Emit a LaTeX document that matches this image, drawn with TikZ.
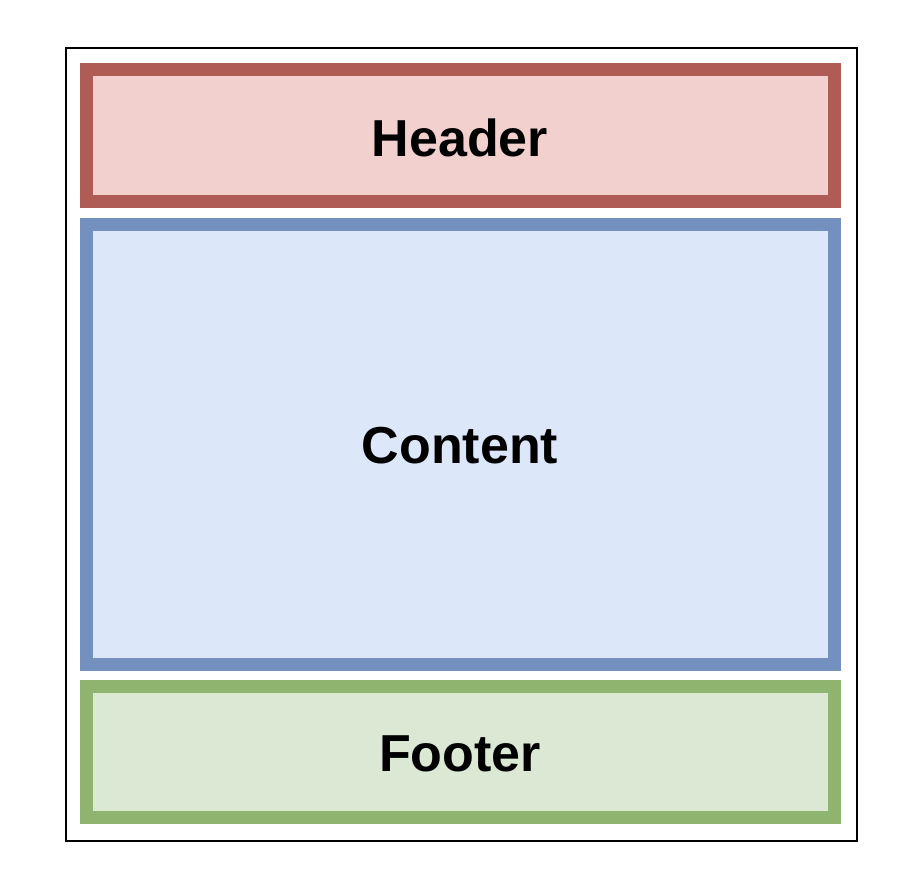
\documentclass[tikz,border=0pt]{standalone}
\usepackage{fontspec}
\setmainfont{Liberation Sans}
\definecolor{hdrfill}{RGB}{242,208,206}
\definecolor{hdrline}{RGB}{176,92,86}
\definecolor{cntfill}{RGB}{220,232,250}
\definecolor{cntline}{RGB}{116,144,190}
\definecolor{ftrfill}{RGB}{218,232,212}
\definecolor{ftrline}{RGB}{142,180,112}
\tikzset{
  x=1pt, y=-1pt,
  region/.style={line width=13pt, font=\fontsize{52}{60}\selectfont\bfseries, text=black},
  frame/.style={draw=black, line width=2pt}
}
\begin{document}
\begin{tikzpicture}
  \useasboundingbox[fill=white] (0,0) rectangle (912,888);
  % page frame
  \draw[frame] (65.5,48.5) rectangle (857.3,841.3);
  % header band
  \draw[region, draw=hdrline, fill=hdrfill] (86,70) rectangle (834,201.7);
  \node[region] (header) at (460,138) {Header};
  % content area
  \draw[region, draw=cntline, fill=cntfill] (86,224) rectangle (834,664);
  \node[region] (content) at (460,446) {Content};
  % footer band
  \draw[region, draw=ftrline, fill=ftrfill] (86,686) rectangle (834,817.7);
  \node[region] (footer) at (460,754) {Footer};
\end{tikzpicture}
\end{document}
